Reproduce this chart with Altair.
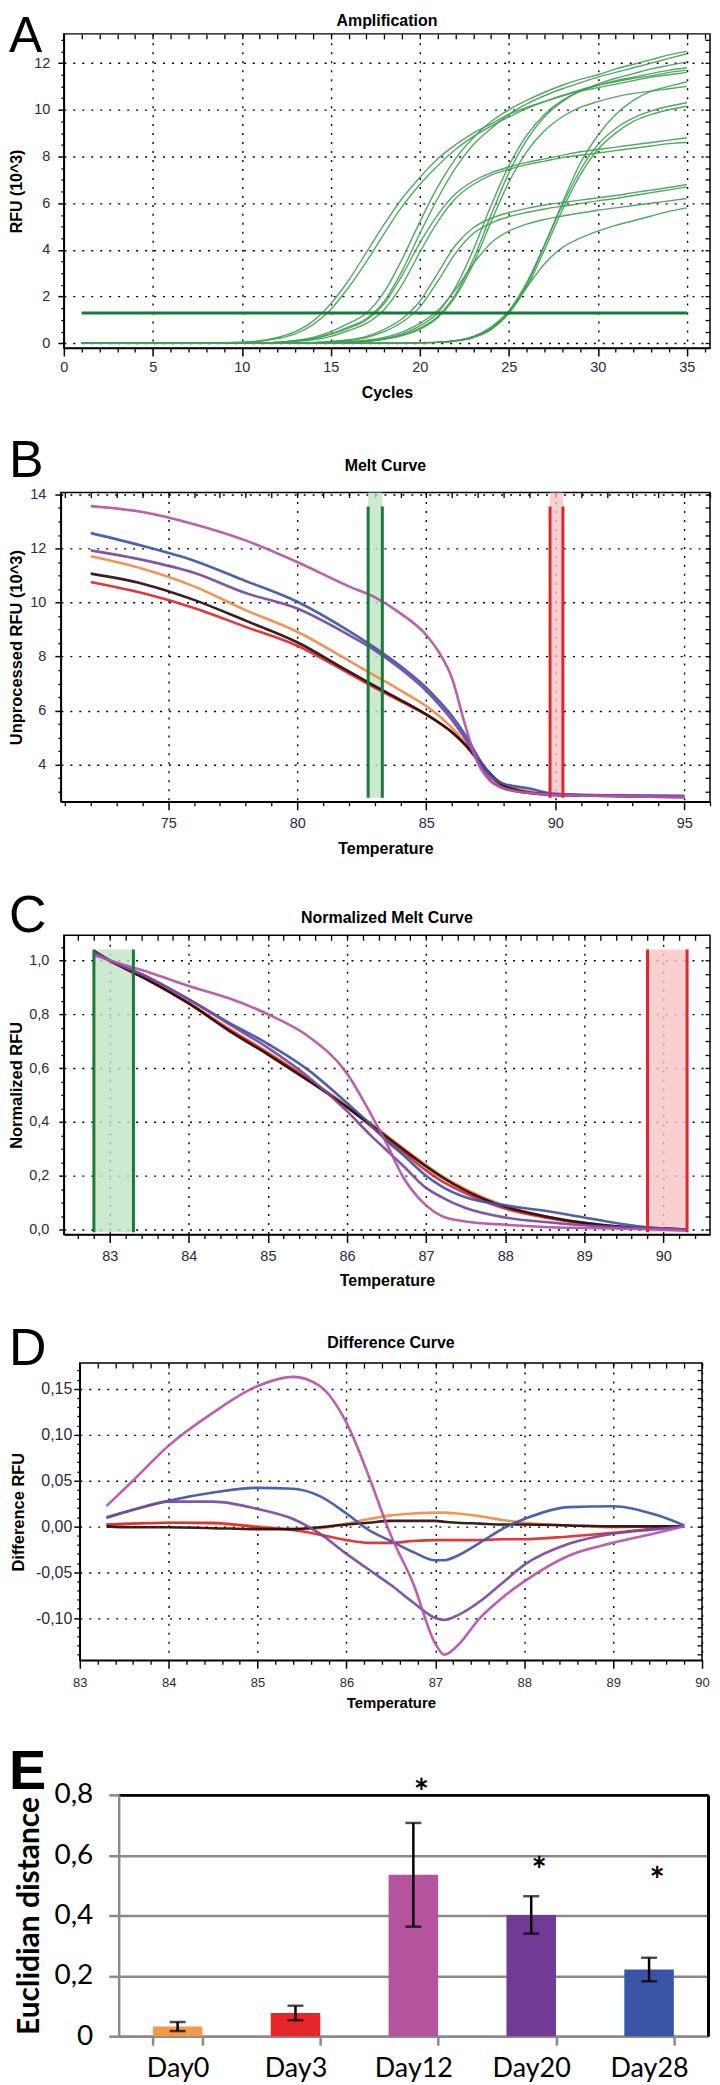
import altair as alt
import pandas as pd

# ============================ DATA ============================
# ---- A: amplification curves, RFU (10^3) read at these cycles ----
amp_cycles = [1, 6, 10, 12, 13, 14, 15, 16, 17, 18, 19, 20, 21, 22, 23, 24, 25, 26, 27, 28, 29, 30, 31, 32, 33, 34, 35]
amp_c01 = [0.02, 0.0, 0.05, 0.25, 0.5, 0.95, 1.7, 2.7, 3.9, 5.1, 6.2, 7.1, 7.9, 8.5, 9.0, 9.4, 9.8, 10.1, 10.35, 10.6, 10.8, 10.95, 11.1, 11.25, 11.4, 11.5, 11.6]
amp_c02 = [0.0, 0.0, 0.04, 0.2, 0.4, 0.8, 1.45, 2.4, 3.5, 4.7, 5.85, 6.8, 7.6, 8.3, 8.85, 9.3, 9.7, 10.05, 10.35, 10.6, 10.85, 11.05, 11.25, 11.4, 11.55, 11.7, 11.8]
amp_c03 = [0.0, 0.0, 0.0, 0.05, 0.12, 0.25, 0.5, 0.85, 1.3, 2.2, 3.6, 5.2, 6.7, 7.9, 8.8, 9.5, 10.0, 10.4, 10.75, 11.05, 11.3, 11.5, 11.75, 11.95, 12.15, 12.35, 12.5]
amp_c04 = [0.0, 0.0, 0.0, 0.04, 0.1, 0.2, 0.4, 0.7, 1.05, 1.8, 3.1, 4.7, 6.2, 7.5, 8.5, 9.2, 9.8, 10.25, 10.6, 10.9, 11.15, 11.4, 11.6, 11.8, 12.0, 12.2, 12.4]
amp_c05 = [0.0, 0.0, 0.0, 0.04, 0.1, 0.2, 0.4, 0.65, 1.0, 1.7, 2.9, 4.3, 5.5, 6.4, 6.95, 7.3, 7.55, 7.75, 7.9, 8.05, 8.2, 8.3, 8.4, 8.5, 8.6, 8.7, 8.8]
amp_c06 = [0.0, 0.0, 0.0, 0.03, 0.08, 0.15, 0.3, 0.55, 0.85, 1.45, 2.5, 3.9, 5.2, 6.2, 6.8, 7.2, 7.45, 7.65, 7.8, 7.95, 8.05, 8.15, 8.25, 8.35, 8.45, 8.55, 8.6]
amp_c07 = [0.0, 0.0, 0.0, 0.01, 0.02, 0.04, 0.08, 0.15, 0.3, 0.6, 1.05, 1.8, 3.0, 4.2, 4.95, 5.35, 5.6, 5.78, 5.92, 6.03, 6.13, 6.23, 6.33, 6.45, 6.56, 6.67, 6.8]
amp_c08 = [0.0, 0.0, 0.0, 0.01, 0.02, 0.03, 0.06, 0.12, 0.25, 0.5, 0.9, 1.55, 2.65, 3.85, 4.7, 5.15, 5.42, 5.6, 5.75, 5.87, 5.98, 6.1, 6.2, 6.33, 6.45, 6.57, 6.7]
amp_c09 = [0.0, 0.0, 0.0, 0.0, 0.01, 0.02, 0.04, 0.07, 0.13, 0.25, 0.48, 0.85, 1.4, 2.3, 3.4, 4.3, 4.8, 5.1, 5.3, 5.45, 5.58, 5.7, 5.8, 5.9, 6.0, 6.1, 6.2]
amp_c10 = [0.0, 0.0, 0.0, 0.0, 0.01, 0.02, 0.03, 0.05, 0.1, 0.2, 0.4, 0.75, 1.3, 2.4, 4.0, 5.9, 7.6, 8.9, 9.8, 10.4, 10.8, 11.05, 11.2, 11.35, 11.45, 11.6, 11.7]
amp_c11 = [0.0, 0.0, 0.0, 0.0, 0.01, 0.01, 0.02, 0.04, 0.08, 0.18, 0.35, 0.65, 1.15, 2.1, 3.6, 5.5, 7.3, 8.7, 9.7, 10.35, 10.8, 11.1, 11.35, 11.55, 11.75, 11.9, 12.05]
amp_c12 = [0.0, 0.0, 0.0, 0.0, 0.0, 0.01, 0.02, 0.04, 0.08, 0.17, 0.33, 0.6, 1.1, 2.0, 3.4, 5.2, 6.9, 8.2, 9.1, 9.7, 10.1, 10.35, 10.55, 10.7, 10.8, 10.9, 11.0]
amp_c13 = [0.0, 0.0, 0.0, 0.0, 0.0, 0.0, 0.0, 0.0, 0.01, 0.01, 0.02, 0.03, 0.05, 0.12, 0.3, 0.7, 1.4, 2.6, 4.2, 5.9, 7.4, 8.5, 9.2, 9.65, 9.95, 10.15, 10.3]
amp_c14 = [0.0, 0.0, 0.0, 0.0, 0.0, 0.0, 0.0, 0.0, 0.0, 0.01, 0.01, 0.02, 0.04, 0.1, 0.25, 0.6, 1.3, 2.4, 4.0, 5.7, 7.2, 8.3, 9.0, 9.5, 9.8, 10.0, 10.15]
amp_c15 = [0.0, 0.0, 0.0, 0.0, 0.0, 0.0, 0.0, 0.0, 0.0, 0.01, 0.01, 0.02, 0.04, 0.1, 0.25, 0.6, 1.3, 2.5, 4.2, 6.0, 7.7, 8.9, 9.8, 10.4, 10.8, 11.0, 11.2]
amp_c16 = [0.0, 0.0, 0.0, 0.0, 0.0, 0.0, 0.0, 0.0, 0.0, 0.01, 0.01, 0.02, 0.04, 0.1, 0.28, 0.65, 1.35, 2.4, 3.4, 4.1, 4.5, 4.8, 5.05, 5.25, 5.45, 5.65, 5.8]
amp_threshold_cycles = [1, 35]
amp_threshold_rfu = [1.3, 1.3]

# ---- B: melt curve, unprocessed RFU (10^3) ----
melt_temp = [72, 74, 76, 78, 80, 82, 83, 84, 85, 85.5, 86, 86.5, 87, 87.5, 88, 89, 90, 92, 95]
melt_day0 = [11.71, 11.25, 10.6, 9.72, 8.92, 7.85, 7.3, 6.75, 6.17, 5.8, 5.36, 4.82, 4.2, 3.65, 3.27, 3.01, 2.9, 2.85, 2.82]
melt_day3 = [10.76, 10.35, 9.8, 9.1, 8.4, 7.38, 6.85, 6.35, 5.85, 5.55, 5.2, 4.74, 4.16, 3.58, 3.16, 2.95, 2.88, 2.84, 2.8]
melt_ctrl = [11.07, 10.7, 10.1, 9.33, 8.53, 7.45, 6.92, 6.4, 5.86, 5.55, 5.2, 4.75, 4.2, 3.65, 3.22, 2.97, 2.9, 2.85, 2.82]
melt_day28 = [12.57, 12.1, 11.55, 10.8, 10.03, 8.95, 8.33, 7.65, 6.85, 6.35, 5.8, 5.12, 4.3, 3.6, 3.3, 3.12, 2.92, 2.87, 2.85]
melt_day20 = [11.93, 11.58, 11.1, 10.35, 9.78, 8.8, 8.24, 7.55, 6.73, 6.22, 5.65, 4.98, 4.15, 3.42, 3.12, 2.95, 2.88, 2.85, 2.83]
melt_day12 = [13.57, 13.35, 12.9, 12.3, 11.5, 10.6, 10.2, 9.6, 8.8, 8.15, 7.2, 5.5, 4.06, 3.38, 3.14, 2.95, 2.88, 2.84, 2.8]
melt_green_band = [82.75, 83.3]
melt_red_band = [89.8, 90.3]

# ---- C: normalized melt curve ----
norm_temp = [82.8, 83, 83.5, 84, 84.5, 85, 85.5, 86, 86.3, 86.5, 86.7, 87, 87.2, 87.5, 88, 88.5, 89, 89.5, 90, 90.3]
norm_day0 = [1.03, 0.998, 0.925, 0.843, 0.748, 0.658, 0.562, 0.46, 0.395, 0.35, 0.305, 0.24, 0.2, 0.15, 0.088, 0.05, 0.025, 0.01, 0.004, 0.0]
norm_day3 = [1.03, 0.998, 0.924, 0.84, 0.745, 0.655, 0.56, 0.455, 0.385, 0.335, 0.29, 0.22, 0.18, 0.135, 0.078, 0.045, 0.022, 0.01, 0.003, 0.0]
norm_ctrl = [1.035, 1.0, 0.925, 0.84, 0.74, 0.65, 0.555, 0.455, 0.39, 0.345, 0.3, 0.235, 0.195, 0.145, 0.085, 0.05, 0.025, 0.01, 0.004, 0.0]
norm_day28 = [1.03, 1.0, 0.935, 0.855, 0.77, 0.69, 0.595, 0.47, 0.39, 0.33, 0.28, 0.2, 0.16, 0.12, 0.09, 0.07, 0.045, 0.02, 0.004, 0.0]
norm_day20 = [1.03, 1.0, 0.935, 0.855, 0.765, 0.675, 0.57, 0.44, 0.35, 0.295, 0.24, 0.155, 0.12, 0.08, 0.045, 0.028, 0.016, 0.008, 0.002, 0.0]
norm_day12 = [1.02, 1.0, 0.955, 0.905, 0.86, 0.8, 0.72, 0.58, 0.43, 0.32, 0.2, 0.09, 0.05, 0.03, 0.018, 0.01, 0.006, 0.003, 0.0, -0.004]
norm_green_band = [82.8, 83.3]
norm_red_band = [89.8, 90.3]

# ---- D: difference curve ----
diff_temp = [83.3, 83.6, 84, 84.5, 85, 85.4, 85.7, 86, 86.25, 86.5, 86.75, 87, 87.1, 87.25, 87.5, 87.75, 88, 88.5, 89, 89.5, 89.8]
diff_day0 = [0.002, 0.003, 0.004, 0.003, 0.0, -0.003, -0.002, 0.003, 0.008, 0.012, 0.014, 0.015, 0.015, 0.014, 0.011, 0.007, 0.004, 0.001, -0.001, 0.0, 0.0]
diff_day3 = [0.002, 0.003, 0.004, 0.004, -0.001, -0.004, -0.009, -0.015, -0.018, -0.018, -0.016, -0.015, -0.015, -0.015, -0.015, -0.014, -0.014, -0.011, -0.007, -0.002, 0.0]
diff_ctrl = [0.0, -0.001, -0.001, -0.002, -0.003, -0.003, -0.001, 0.002, 0.004, 0.006, 0.006, 0.006, 0.005, 0.004, 0.003, 0.002, 0.002, 0.001, 0.0, 0.0, 0.0]
diff_day28 = [0.01, 0.018, 0.028, 0.037, 0.042, 0.041, 0.033, 0.014, -0.004, -0.016, -0.028, -0.037, -0.037, -0.032, -0.018, -0.003, 0.008, 0.021, 0.022, 0.012, 0.001]
diff_day20 = [0.009, 0.018, 0.027, 0.027, 0.019, 0.008, -0.008, -0.03, -0.047, -0.064, -0.083, -0.1, -0.102, -0.097, -0.082, -0.062, -0.042, -0.019, -0.008, -0.003, 0.0]
diff_day12 = [0.022, 0.05, 0.088, 0.124, 0.153, 0.163, 0.153, 0.113, 0.055, -0.01, -0.062, -0.128, -0.14, -0.13, -0.1, -0.078, -0.06, -0.032, -0.018, -0.007, 0.0]

# ---- E: Euclidian distance ----
days = ["Day0", "Day3", "Day12", "Day20", "Day28"]
euclid_mean = [0.032, 0.077, 0.535, 0.402, 0.221]
euclid_err = [0.015, 0.024, 0.172, 0.062, 0.039]
star_days = ["Day12", "Day20", "Day28"]
star_y = [0.834, 0.573, 0.54]

panel_letters = ["A", "B", "C", "D", "E"]
panel_titles = ["Amplification", "Melt Curve", "Normalized Melt Curve", "Difference Curve"]

# ============================ STYLE ============================
SERIES_ORDER = ["Day0", "Day3", "Control", "Day28", "Day20", "Day12"]
SERIES_COLORS = ["#F28B45", "#E2262B", "#2A0B0B", "#3C55A8", "#7549A1", "#B551A7"]
BAR_COLORS = ["#F3994C", "#E8252A", "#B6539F", "#713A95", "#3A55A5"]
AMP_GREEN = "#3f9e52"
THR_GREEN = "#147a38"
LABEL_FONT = "Liberation Sans, Arial, sans-serif"
TITLE_FONT = "Liberation Sans, Arial, sans-serif"
LETTER_FONT = "Liberation Sans, Arial, sans-serif"
LATO = "Lato, Open Sans, sans-serif"
GRAY = "#8a8a8a"


def steps(start, count, step, nd=3):
    return [round(start + i * step, nd) for i in range(count)]


def is_mult(v, m):
    r = v / m
    return abs(r - round(r)) < 1e-6


def grid_axis(orient, values, lab_size, tick, pad, title, t_size, t_pad, expr=None):
    kw = dict(orient=orient, values=values, grid=True, gridColor="black", gridDash=[2, 7],
              gridWidth=1.4, gridOpacity=1, domain=True, domainColor="black", domainWidth=1.5,
              ticks=True, tickColor="black", tickSize=tick, tickWidth=1.5,
              labelFont=LABEL_FONT, labelFontSize=lab_size, labelColor="#2a2a40",
              labelPadding=pad, labelFlush=False, labelOverlap=False,
              title=title, titleFont=TITLE_FONT, titleFontSize=t_size, titleFontWeight="bold",
              titleColor="black", titlePadding=t_pad)
    if expr:
        kw["labelExpr"] = expr
    return alt.Axis(**kw)


def tick_axis(orient, values, size, offset=0):
    return alt.Axis(orient=orient, values=values, labels=False, grid=False, domain=False,
                    ticks=True, tickColor="black", tickSize=size, tickWidth=1.3,
                    title=None, offset=offset)


def letter_cell(ch, width, y, size=52, weight="normal"):
    return alt.Chart(pd.DataFrame({"t": [ch]})).mark_text(
        align="left", baseline="top", font=LETTER_FONT, fontSize=size, fontWeight=weight, color="black"
    ).encode(x=alt.value(0), y=alt.value(y), text="t:N").properties(
        width=width, height=10, view=alt.ViewBackground(stroke="transparent"))


def ghost(df, xf, yf, sx, sy, ax, ay):
    return alt.Chart(df).mark_point(opacity=0, size=1).encode(
        x=alt.X(xf, scale=sx, axis=ax), y=alt.Y(yf, scale=sy, axis=ay))


def long_df(xs, cols, xname, yname):
    rows = []
    for name, vals in zip(SERIES_ORDER, cols):
        for x, v in zip(xs, vals):
            rows.append({xname: x, yname: v, "series": name})
    return pd.DataFrame(rows)


def series_lines(df, xf, yf, sx, sy, ax, ay):
    return alt.Chart(df).mark_line(strokeWidth=2.6, interpolate="monotone", opacity=0.92).encode(
        x=alt.X(xf, scale=sx, axis=ax), y=alt.Y(yf, scale=sy, axis=ay),
        color=alt.Color("series:N", scale=alt.Scale(domain=SERIES_ORDER, range=SERIES_COLORS), legend=None))


def band(lo_hi, y_fill, y_line, sx, sy, fill, edge):
    d = pd.DataFrame({"x": [lo_hi[0]], "x2": [lo_hi[1]], "y": [y_fill[0]], "y2": [y_fill[1]]})
    rect = alt.Chart(d).mark_rect(color=fill, opacity=0.8).encode(
        x=alt.X("x:Q", scale=sx, axis=None), x2="x2:Q",
        y=alt.Y("y:Q", scale=sy, axis=None), y2="y2:Q")
    e = pd.DataFrame({"x": list(lo_hi), "y": [y_line[0]] * 2, "y2": [y_line[1]] * 2})
    edges = alt.Chart(e).mark_rule(color=edge, strokeWidth=3).encode(
        x=alt.X("x:Q", scale=sx, axis=None), y=alt.Y("y:Q", scale=sy, axis=None), y2="y2:Q")
    return rect, edges


def ptitle(text, offset, size=16):
    return alt.TitleParams(text=text, font=TITLE_FONT, fontSize=size, fontWeight="bold",
                           color="black", offset=offset, anchor="middle")


# ============================ PANEL A ============================
amp_curves = [amp_c01, amp_c02, amp_c03, amp_c04, amp_c05, amp_c06, amp_c07, amp_c08,
              amp_c09, amp_c10, amp_c11, amp_c12, amp_c13, amp_c14, amp_c15, amp_c16]
amp_rows = []
for i, vals in enumerate(amp_curves):
    for c, v in zip(amp_cycles, vals):
        amp_rows.append({"cycle": c, "rfu": v, "curve": "c%02d" % i})
amp_df = pd.DataFrame(amp_rows)
thr_df = pd.DataFrame({"cycle": amp_threshold_cycles, "rfu": amp_threshold_rfu})

sxA = alt.Scale(domain=[0, 36.3], nice=False, zero=False)
syA = alt.Scale(domain=[-0.2, 13.25], nice=False, zero=False)
a_curves = alt.Chart(amp_df).mark_line(color=AMP_GREEN, strokeWidth=1.4, interpolate="monotone", opacity=0.9).encode(
    x=alt.X("cycle:Q", scale=sxA, axis=grid_axis("bottom", steps(0, 8, 5), 14.5, 8, 5, "Cycles", 16, 10)),
    y=alt.Y("rfu:Q", scale=syA, axis=grid_axis("left", steps(0, 7, 2), 14.5, 6, 8, "RFU (10^3)", 16, 9)),
    detail="curve:N")
a_thr = alt.Chart(thr_df).mark_line(color=THR_GREEN, strokeWidth=3).encode(
    x=alt.X("cycle:Q", scale=sxA, axis=tick_axis("bottom", [v for v in steps(0, 37, 1) if not is_mult(v, 5)], 4)),
    y=alt.Y("rfu:Q", scale=syA, axis=tick_axis("left", [v for v in steps(0, 27, 0.5) if not is_mult(v, 2)], 3)))
a_ghost = ghost(thr_df, "cycle:Q", "rfu:Q", sxA, syA,
                tick_axis("top", steps(0, 37, 1), 5, -5), tick_axis("right", steps(0, 27, 0.5), 5, -5))
pA = alt.layer(a_curves, a_thr, a_ghost).resolve_axis(
    x="independent", y="independent").properties(width=648, height=315, title=ptitle(panel_titles[0], 4))

# ============================ PANEL B ============================
melt_df = long_df(melt_temp, [melt_day0, melt_day3, melt_ctrl, melt_day28, melt_day20, melt_day12], "temp", "rfu")
sxB = alt.Scale(domain=[70.84, 96.0], nice=False, zero=False)
syB = alt.Scale(domain=[2.63, 14.07], nice=False, zero=False)
gB_rect, gB_edge = band(melt_green_band, [2.78, 14.07], [2.78, 13.55], sxB, syB, "#bfe3c6", "#1d7a3a")
rB_rect, rB_edge = band(melt_red_band, [2.78, 14.07], [2.78, 13.55], sxB, syB, "#f6c4c4", "#e0262b")
b_lines = series_lines(melt_df, "temp:Q", "rfu:Q", sxB, syB,
                       grid_axis("bottom", steps(75, 5, 5), 14.5, 8, 7, "Temperature", 16, 10),
                       grid_axis("left", steps(4, 6, 2), 14.5, 6, 9, "Unprocessed RFU (10^3)", 16.5, 5))
b_g1 = ghost(melt_df.head(2), "temp:Q", "rfu:Q", sxB, syB,
             tick_axis("bottom", [v for v in steps(71, 26, 1) if not is_mult(v, 5)], 4),
             tick_axis("left", [v for v in steps(3, 23, 0.5) if not is_mult(v, 2)], 3))
b_g2 = ghost(melt_df.head(2), "temp:Q", "rfu:Q", sxB, syB,
             tick_axis("top", steps(71, 26, 1), 5, -5), tick_axis("right", steps(3, 23, 0.5), 5, -5))
pB = alt.layer(gB_rect, rB_rect, b_lines, gB_edge, rB_edge, b_g1, b_g2).resolve_axis(
    x="independent", y="independent").properties(width=651, height=310, title=ptitle(panel_titles[1], 13))

# ============================ PANEL C ============================
norm_df = long_df(norm_temp, [norm_day0, norm_day3, norm_ctrl, norm_day28, norm_day20, norm_day12], "temp", "nrfu")
sxC = alt.Scale(domain=[82.42, 90.59], nice=False, zero=False)
syC = alt.Scale(domain=[-0.018, 1.093], nice=False, zero=False)
gC_rect, gC_edge = band(norm_green_band, [-0.01, 1.04], [-0.01, 1.04], sxC, syC, "#bfe3c6", "#1d7a3a")
rC_rect, rC_edge = band(norm_red_band, [-0.01, 1.04], [-0.01, 1.04], sxC, syC, "#f6c4c4", "#e0262b")
c_lines = series_lines(norm_df, "temp:Q", "nrfu:Q", sxC, syC,
                       grid_axis("bottom", steps(83, 8, 1), 14.5, 8, 7, "Temperature", 16, 10),
                       grid_axis("left", steps(0, 6, 0.2), 14.5, 5, 10, "Normalized RFU", 16.5, 4,
                                 expr="replace(format(datum.value, '.1f'), '.', ',')"))
c_g1 = ghost(norm_df.head(2), "temp:Q", "nrfu:Q", sxC, syC,
             tick_axis("bottom", [v for v in steps(82.6, 40, 0.2) if not is_mult(v, 1)], 4),
             tick_axis("left", [v for v in steps(0, 22, 0.05) if not is_mult(v, 0.2)], 3))
c_g2 = ghost(norm_df.head(2), "temp:Q", "nrfu:Q", sxC, syC,
             tick_axis("top", steps(82.6, 40, 0.2), 5, -5), tick_axis("right", steps(0, 22, 0.05), 5, -5))
pC = alt.layer(gC_rect, rC_rect, c_lines, gC_edge, rC_edge, c_g1, c_g2).resolve_axis(
    x="independent", y="independent").properties(width=648, height=300, title=ptitle(panel_titles[2], 9))

# ============================ PANEL D ============================
diff_df = long_df(diff_temp, [diff_day0, diff_day3, diff_ctrl, diff_day28, diff_day20, diff_day12], "temp", "drfu")
sxD = alt.Scale(domain=[83, 90], nice=False, zero=False)
syD = alt.Scale(domain=[-0.146, 0.178], nice=False, zero=False)
d_lines = series_lines(diff_df, "temp:Q", "drfu:Q", sxD, syD,
                       grid_axis("bottom", steps(83, 8, 1), 13, 8, 8, "Temperature", 15, 6),
                       grid_axis("left", steps(-0.1, 6, 0.05, 2), 16, 6, 2, "Difference RFU", 16.5, 9,
                                 expr="(datum.value < 0 ? '-' : '') + replace(format(abs(datum.value), '.2f'), '.', ',')"))
d_g1 = ghost(diff_df.head(2), "temp:Q", "drfu:Q", sxD, syD,
             tick_axis("bottom", [v for v in steps(83, 36, 0.2) if not is_mult(v, 1)], 4),
             tick_axis("left", [v for v in steps(-0.14, 32, 0.01, 2) if not is_mult(v, 0.05)], 3))
d_g2 = ghost(diff_df.head(2), "temp:Q", "drfu:Q", sxD, syD,
             tick_axis("top", steps(83, 36, 0.2), 5, -5), tick_axis("right", steps(-0.14, 32, 0.01, 2), 5, -5))
pD = alt.layer(d_lines, d_g1, d_g2).resolve_axis(
    x="independent", y="independent").properties(width=624, height=298, title=ptitle(panel_titles[3], 11))

# ============================ PANEL E ============================
e_df = pd.DataFrame({"day": days, "mean": euclid_mean, "err": euclid_err})
e_df["lo"] = e_df["mean"] - e_df["err"]
e_df["hi"] = e_df["mean"] + e_df["err"]
caps_df = pd.concat([
    pd.DataFrame({"day": days, "v": e_df["lo"]}),
    pd.DataFrame({"day": days, "v": e_df["hi"]}),
], ignore_index=True)
star_df = pd.DataFrame({"day": star_days, "v": star_y})

sxE = alt.Scale(paddingInner=0.58, paddingOuter=0.29)
syE = alt.Scale(domain=[0, 0.8], nice=False, zero=True)
e_xaxis = alt.Axis(orient="bottom", labelAngle=0, tickBand="extent", domain=True, domainColor=GRAY,
                   domainWidth=2.5, ticks=True, tickColor=GRAY, tickWidth=2.5, tickSize=9,
                   labelFont=LATO, labelFontSize=27, labelColor="black", labelPadding=10,
                   title=None, grid=False)
e_yaxis = alt.Axis(orient="left", values=[0, 0.2, 0.4, 0.6, 0.8],
                   labelExpr="datum.value == 0 ? '0' : replace(format(datum.value, '.1f'), '.', ',')",
                   grid=True, gridColor=GRAY, gridWidth=2.5, domain=True, domainColor=GRAY, domainWidth=2.5,
                   ticks=True, tickColor=GRAY, tickWidth=2.5, tickSize=10, labelFont=LATO, labelFontSize=28,
                   labelColor="black", labelPadding=16, title="Euclidian distance", titleFont=LATO,
                   titleFontSize=30, titleFontWeight="bold", titleColor="black", titlePadding=10)
e_top = alt.Axis(orient="top", labels=False, ticks=False, grid=False, domain=True,
                 domainColor="black", domainWidth=3, title=None)
e_right = alt.Axis(orient="right", labels=False, ticks=False, grid=False, domain=True,
                   domainColor="black", domainWidth=3, title=None)

e_bars = alt.Chart(e_df).mark_bar().encode(
    x=alt.X("day:N", sort=days, scale=sxE, axis=e_xaxis),
    y=alt.Y("mean:Q", scale=syE, axis=e_yaxis),
    color=alt.Color("day:N", scale=alt.Scale(domain=days, range=BAR_COLORS), legend=None))
e_rules = alt.Chart(e_df).mark_rule(color="black", strokeWidth=2.5).encode(
    x=alt.X("day:N", sort=days, scale=sxE, axis=e_top),
    y=alt.Y("lo:Q", scale=syE, axis=e_right), y2="hi:Q")
e_caps = alt.Chart(caps_df).mark_tick(color="black", thickness=2.5, size=16).encode(
    x=alt.X("day:N", sort=days, scale=sxE, axis=None),
    y=alt.Y("v:Q", scale=syE, axis=None))
e_stars = alt.Chart(star_df).mark_text(text="*", font=LATO, fontSize=36, fontWeight="bold",
                                       color="black", dx=8, dy=20, baseline="alphabetic").encode(
    x=alt.X("day:N", sort=days, scale=sxE, axis=None),
    y=alt.Y("v:Q", scale=syE, axis=None))
pE = alt.layer(e_bars, e_rules, e_caps, e_stars).resolve_axis(
    x="independent", y="independent").properties(
    width=591, height=242, view=alt.ViewBackground(stroke="transparent"))

# ============================ FIGURE ============================
# each row: a narrow cell holding the panel letter, then the panel itself
rows = [
    alt.hconcat(letter_cell(panel_letters[0], 55, -22, 50), pA, spacing=0, bounds="flush"),
    alt.hconcat(letter_cell(panel_letters[1], 52, -56.5), pB, spacing=0, bounds="flush"),
    alt.hconcat(letter_cell(panel_letters[2], 55, -44), pC, spacing=0, bounds="flush"),
    alt.hconcat(letter_cell(panel_letters[3], 71, -39), pD, spacing=0, bounds="flush"),
    alt.hconcat(letter_cell(panel_letters[4], 110, -50, 56, "bold"), pE, spacing=0, bounds="flush"),
]
chart = alt.vconcat(*rows, spacing=32, bounds="full", padding=0, background="white")
chart = chart.resolve_scale(color="independent").configure_view(stroke="black", strokeWidth=1.5)
chart.save("out.html", embed_options={"renderer": "svg", "actions": False})
